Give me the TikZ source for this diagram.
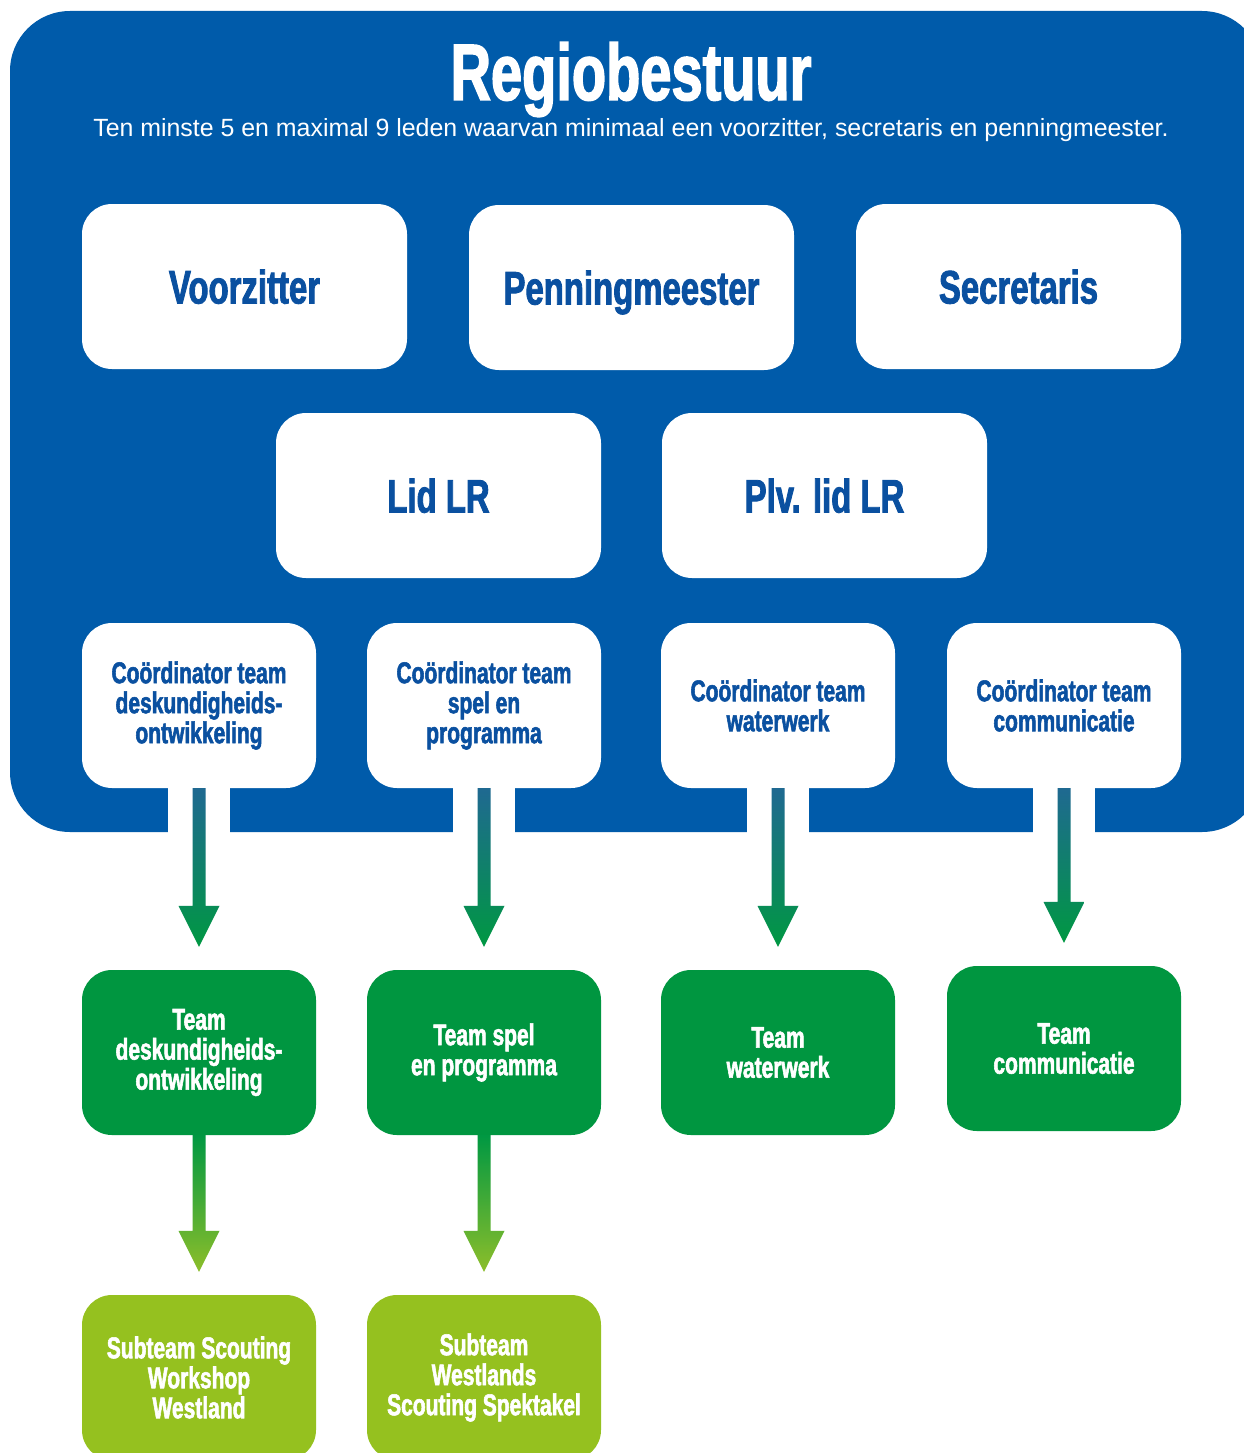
\documentclass[tikz,border=0pt]{standalone}
\usepackage{fontspec}
\setmainfont{Liberation Sans}
\newfontfamily\condf[FakeStretch=0.7,FakeBold=1.8]{Liberation Sans}
\usetikzlibrary{calc}
\definecolor{rblue}{RGB}{0,91,170}
\definecolor{tblue}{RGB}{10,80,160}
\definecolor{rgreen}{RGB}{0,150,64}
\definecolor{lgreen}{RGB}{149,193,31}
\definecolor{teal}{RGB}{31,105,145}
\definecolor{agreen}{RGB}{0,152,66}
\definecolor{alight}{RGB}{140,190,42}
\tikzset{
  bigbox/.style={rectangle,rounded corners=30,fill=white,minimum width=325,minimum height=165,inner sep=0,
    text=tblue,align=center,text height=34pt,text depth=0pt,font=\condf\bfseries\fontsize{47}{50}\selectfont},
  coordbox/.style={rectangle,rounded corners=30,fill=white,minimum width=234,minimum height=165,inner sep=0,
    text=tblue,align=center,font=\condf\bfseries\fontsize{30}{30}\selectfont},
  teambox/.style={rectangle,rounded corners=30,fill=rgreen,minimum width=234,minimum height=165,inner sep=0,
    text=white,align=center,font=\condf\bfseries\fontsize{30}{30}\selectfont},
  subbox/.style={rectangle,rounded corners=30,fill=lgreen,minimum width=234,minimum height=165,inner sep=0,
    text=white,align=center,font=\condf\bfseries\fontsize{30}{30}\selectfont},
}
\newcommand\flowarrow[5]{%
  \coordinate (#2tip) at ($(#1.south |- #2.north)+(0,-23)$);
  \shade[top color=#3,middle color=#4,bottom color=#5]
    ($(#1.south)+(-6.5,0)$) -- ($(#2tip)+(-6.5,-41)$) -- ($(#2tip)+(-20.5,-41)$) -- (#2tip)
    -- ($(#2tip)+(20.5,-41)$) -- ($(#2tip)+(6.5,-41)$) -- ($(#1.south)+(6.5,0)$) -- cycle;
}
\begin{document}
\begin{tikzpicture}[x=1pt,y=-1pt]
\useasboundingbox (0,0) rectangle (1243,1453);
\fill[white] (0,0) rectangle (1243,1453);
% big blue panel
\fill[rblue,rounded corners=60] (10,11) rectangle (1262,832);
\node[text=white,font=\condf\bfseries\fontsize{80}{80}\selectfont,anchor=base] (title) at (631,100) {Regiobestuur};
\node[text=white,font=\fontsize{24.9}{26}\selectfont,anchor=base] (sub) at (631,136) {Ten minste 5 en maximal 9 leden waarvan minimaal een voorzitter, secretaris en penningmeester.};
% row 1
\node[bigbox] (vz) at (244.5,286.5) {Voorzitter};
\node[bigbox] (pm) at (631.5,287.5) {Penningmeester};
\node[bigbox] (sc) at (1018.5,286.5) {Secretaris};
% row 2
\node[bigbox] (lid) at (438.5,495.5) {Lid LR};
\node[bigbox] (plv) at (824.5,495.5) {Plv. lid LR};
% row 3
\node[coordbox] (c1) at (199,705.5) {Coördinator team\\deskundigheids-\\ontwikkeling};
\node[coordbox] (c2) at (484,705.5) {Coördinator team\\spel en\\programma};
\node[coordbox] (c3) at (778,705.5) {Coördinator team\\waterwerk};
\node[coordbox] (c4) at (1064,705.5) {Coördinator team\\communicatie};
% white gaps in the panel below coordinators
\foreach \n in {c1,c2,c3,c4}{
  \fill[white] ($(\n.south)+(-31,0)$) rectangle ($(\n.south)+(31,50)$);
}
% row 4
\node[teambox] (t1) at (199,1052.5) {Team\\deskundigheids-\\ontwikkeling};
\node[teambox] (t2) at (484,1052.5) {Team spel\\en programma};
\node[teambox] (t3) at (778,1052.5) {Team\\waterwerk};
\node[teambox] (t4) at (1064,1048.5) {Team\\communicatie};
% row 5
\node[subbox] (s1) at (199,1377.5) {Subteam Scouting\\Workshop\\Westland};
\node[subbox] (s2) at (484,1377.5) {Subteam\\Westlands\\Scouting Spektakel};
% arrows
\flowarrow{c1}{t1}{teal}{agreen!85!teal}{agreen}
\flowarrow{c2}{t2}{teal}{agreen!85!teal}{agreen}
\flowarrow{c3}{t3}{teal}{agreen!85!teal}{agreen}
\flowarrow{c4}{t4}{teal}{agreen!85!teal}{agreen}
\flowarrow{t1}{s1}{agreen}{agreen!50!alight}{alight}
\flowarrow{t2}{s2}{agreen}{agreen!50!alight}{alight}
\end{tikzpicture}
\end{document}
